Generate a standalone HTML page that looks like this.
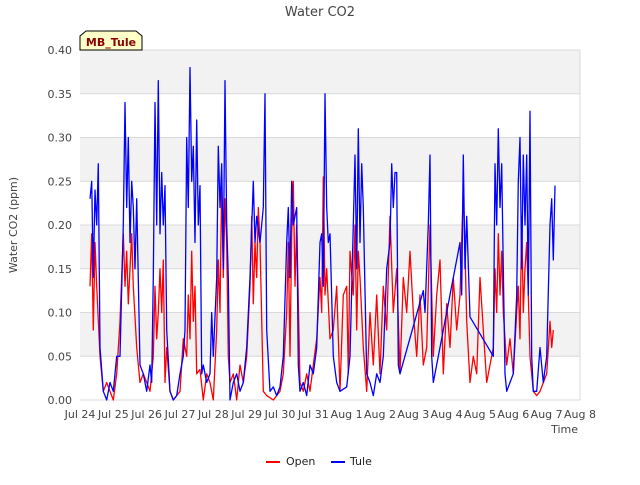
<!DOCTYPE html>
<html><head><meta charset="utf-8"><style>
body{margin:0;background:#fff;font-family:"Liberation Sans","DejaVu Sans",sans-serif;}
svg text{font-family:"DejaVu Sans","Liberation Sans",sans-serif;}
</style></head><body>
<svg id="chart" width="640" height="480" xmlns="http://www.w3.org/2000/svg">
<text x="320" y="16" text-anchor="middle" font-size="13" fill="#444">Water CO2</text>
<g id="bands"></g><g id="grid"></g><g id="series"></g><g id="axes"></g>
<line x1="580" y1="50" x2="580" y2="400" stroke="#d9d9d9" stroke-width="1"/>
<text transform="translate(17,225) rotate(-90)" text-anchor="middle" font-size="11" fill="#444">Water CO2 (ppm)</text>
<text x="578" y="433" text-anchor="end" font-size="11" fill="#444">Time</text>
<g>
<path d="M80,50 L80,36 L86,31 L136,31 L142,36 L142,50 Z" fill="#ffffc8" stroke="#000" stroke-width="1"/>
<text x="111" y="46" text-anchor="middle" font-size="11" font-weight="bold" fill="#8b0000">MB_Tule</text>
</g>
<g>
<g><line x1="266" y1="462" x2="280" y2="462" stroke="#ff0000" stroke-width="2"/><text x="286" y="465" font-size="11" fill="#222">Open</text></g>
<g><line x1="331" y1="462" x2="345" y2="462" stroke="#0000ff" stroke-width="2"/><text x="350" y="465" font-size="11" fill="#222">Tule</text></g>
</g>
</svg>
<script>
const xTickLabels=["Jul 24","Jul 25","Jul 26","Jul 27","Jul 28","Jul 29","Jul 30","Jul 31","Aug 1","Aug 2","Aug 3","Aug 4","Aug 5","Aug 6","Aug 7","Aug 8"];
const yTicks=[0,0.05,0.10,0.15,0.20,0.25,0.30,0.35,0.40];
const tuleT=[0.3,0.35,0.4,0.45,0.5,0.55,0.6,0.7,0.8,0.9,1.0,1.1,1.2,1.3,1.35,1.4,1.45,1.5,1.55,1.6,1.65,1.7,1.8,1.9,2.0,2.1,2.15,2.2,2.25,2.3,2.35,2.4,2.45,2.5,2.55,2.6,2.7,2.8,2.9,3.0,3.1,3.15,3.2,3.25,3.3,3.35,3.4,3.45,3.5,3.55,3.6,3.65,3.7,3.8,3.9,3.95,4.0,4.1,4.15,4.2,4.25,4.3,4.35,4.4,4.45,4.5,4.6,4.7,4.8,4.9,5.0,5.1,5.2,5.25,5.3,5.4,5.5,5.55,5.6,5.7,5.8,5.9,6.0,6.1,6.2,6.25,6.3,6.35,6.4,6.5,6.55,6.6,6.7,6.8,6.9,7.0,7.1,7.2,7.25,7.3,7.35,7.4,7.45,7.5,7.6,7.7,7.8,8.0,8.1,8.2,8.25,8.3,8.35,8.4,8.45,8.5,8.6,8.7,8.8,8.9,9.0,9.1,9.2,9.3,9.35,9.4,9.45,9.5,9.55,9.6,10.3,10.35,10.45,10.5,10.55,10.6,11.4,11.45,11.5,11.55,11.6,11.7,12.4,12.45,12.5,12.55,12.6,12.65,12.7,12.75,12.8,12.9,13.0,13.1,13.15,13.2,13.25,13.3,13.35,13.4,13.45,13.5,13.55,13.6,13.7,13.8,13.9,14.0,14.1,14.15,14.2,14.25];
const tuleV=[.23,.25,.14,.24,.20,.27,.06,.01,0,.02,.01,.05,.05,.20,.34,.22,.30,.18,.25,.22,.15,.23,.04,.03,.01,.04,.02,.14,.34,.20,.365,.19,.26,.20,.245,.08,.01,0,.005,.03,.05,.08,.30,.22,.38,.25,.29,.18,.32,.20,.245,.03,.04,.02,.03,.10,.05,.14,.29,.22,.27,.15,.365,.20,.14,0,.02,.03,.01,.02,.06,.14,.25,.18,.21,.18,.22,.35,.08,.01,.015,.005,.015,.05,.18,.22,.14,.25,.20,.22,.04,.01,.02,.005,.04,.03,.06,.18,.19,.13,.35,.22,.18,.19,.05,.02,.01,.015,.05,.20,.28,.15,.31,.18,.27,.22,.03,.02,.005,.03,.02,.05,.15,.18,.27,.22,.26,.26,.04,.03,.125,.10,.20,.28,.05,.02,.18,.12,.28,.15,.21,.095,.05,.27,.20,.31,.22,.27,.15,.03,.01,.02,.03,.12,.25,.30,.15,.28,.20,.28,.12,.33,.05,.01,.01,.06,.02,.05,.20,.23,.16,.245];
const openT=[0.3,0.35,0.4,0.45,0.5,0.6,0.7,0.8,0.9,1.0,1.1,1.2,1.3,1.35,1.4,1.45,1.5,1.55,1.6,1.7,1.8,1.9,2.0,2.1,2.2,2.25,2.3,2.35,2.4,2.45,2.5,2.55,2.6,2.7,2.8,3.0,3.1,3.2,3.25,3.3,3.35,3.4,3.45,3.5,3.6,3.7,3.8,3.9,4.0,4.1,4.15,4.2,4.25,4.3,4.35,4.4,4.45,4.5,4.6,4.7,4.8,4.9,5.0,5.1,5.15,5.2,5.25,5.3,5.35,5.4,5.5,5.6,5.8,6.0,6.1,6.2,6.25,6.3,6.35,6.4,6.45,6.5,6.6,6.7,6.8,6.9,7.0,7.1,7.2,7.25,7.3,7.35,7.4,7.5,7.6,7.7,7.8,7.9,8.0,8.05,8.1,8.2,8.25,8.3,8.35,8.4,8.5,8.6,8.7,8.8,8.9,9.0,9.1,9.2,9.3,9.4,9.5,9.6,9.7,9.8,9.9,10.0,10.1,10.2,10.3,10.4,10.5,10.6,10.7,10.8,10.9,11.0,11.1,11.2,11.3,11.4,11.5,11.55,11.6,11.7,11.8,11.9,12.0,12.1,12.2,12.4,12.45,12.5,12.55,12.6,12.65,12.7,12.8,12.9,13.0,13.1,13.15,13.2,13.25,13.3,13.35,13.4,13.45,13.5,13.6,13.7,13.8,14.0,14.1,14.15,14.2];
const openV=[.13,.19,.08,.18,.13,.05,.01,.02,.01,0,.03,.09,.19,.13,.17,.11,.15,.19,.13,.06,.02,.03,.02,.01,.05,.13,.07,.10,.15,.10,.16,.02,.06,.01,0,.01,.07,.05,.12,.07,.17,.09,.13,.03,.035,0,.03,.02,0,.08,.16,.10,.25,.14,.23,.18,.05,.02,.03,0,.04,.02,.05,.13,.21,.11,.18,.14,.22,.18,.01,.005,0,.01,.03,.10,.18,.05,.19,.25,.13,.20,.02,.01,.03,.01,.04,.07,.14,.10,.255,.12,.15,.07,.08,.13,.01,.12,.13,.03,.17,.12,.20,.08,.17,.14,.06,.01,.10,.04,.12,.03,.13,.08,.21,.10,.15,.03,.14,.10,.17,.10,.05,.12,.04,.06,.20,.05,.12,.16,.03,.11,.06,.14,.08,.12,.24,.17,.09,.02,.05,.03,.14,.08,.02,.06,.15,.10,.19,.12,.17,.10,.04,.07,.03,.10,.13,.07,.21,.10,.15,.18,.12,.05,.01,.005,.01,.03,.09,.06,.08];
const L=80,R=580,T=50,B=400;
const xs=d=>L+(R-L)*d/15, ys=v=>B-(B-T)*v/0.4;
const NS="http://www.w3.org/2000/svg";
function mk(tag,attrs,parent){const e=document.createElementNS(NS,tag);for(const k in attrs)e.setAttribute(k,attrs[k]);document.getElementById(parent).appendChild(e);return e;}
for(let i=0;i<8;i++){ if(i%2===1){const e=mk('rect',{x:L,y:ys(yTicks[i]+0.05),width:R-L,height:ys(yTicks[i])-ys(yTicks[i]+0.05),fill:'#f2f2f2'},'bands');

}}
yTicks.forEach(v=>{const l=mk('line',{x1:L,x2:R,y1:ys(v),y2:ys(v),stroke:'#d9d9d9','stroke-width':1},'grid');


const t=mk('text',{x:L-8,y:ys(v)+4,'text-anchor':'end','font-size':11,fill:'#444'},'axes');t.textContent=v.toFixed(2);

});
xTickLabels.forEach((s,i)=>{
const t=mk('text',{x:xs(i),y:B+18,'text-anchor':'middle','font-size':11,fill:'#444'},'axes');t.textContent=s;

});
function line(tArr,vArr,color,name){const d=tArr.map((t,i)=>(i?'L':'M')+xs(t).toFixed(1)+','+ys(vArr[i]).toFixed(1)).join(' ');
const p=mk('path',{d:d,fill:'none',stroke:color,'stroke-width':1.3,'stroke-linejoin':'round'},'series');

}
line(openT,openV,'#ff0000','series-open');
line(tuleT,tuleV,'#0000ff','series-tule');
</script>
</body></html>
